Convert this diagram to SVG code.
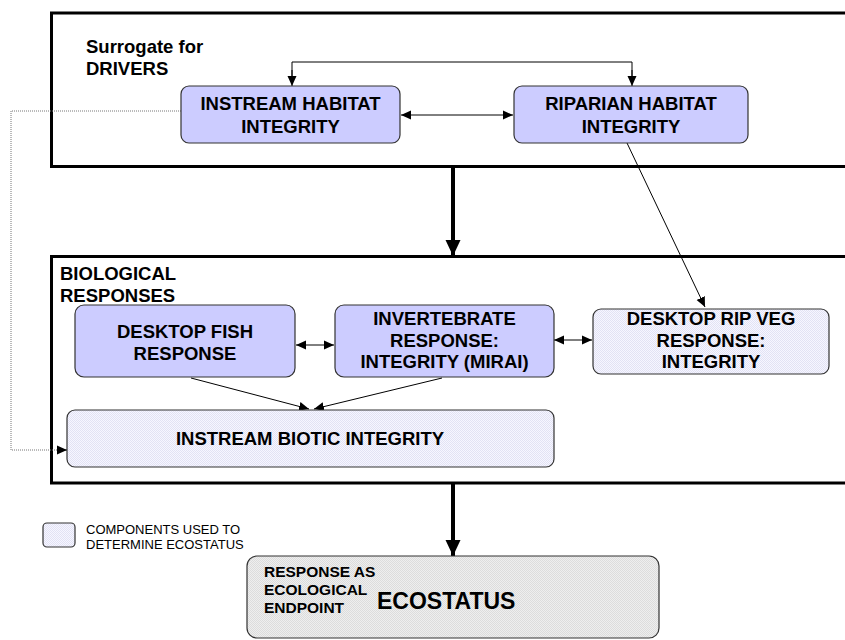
<svg xmlns="http://www.w3.org/2000/svg" width="845" height="640" viewBox="0 0 845 640">
<style>
.frame{fill:none;stroke:#000;stroke-width:3}
.dark{fill:#ccccff;stroke:#333;stroke-width:1.2}
.light{fill:url(#lightDots);stroke:#333;stroke-width:1.2}
.grey{fill:url(#greyDots);stroke:#333;stroke-width:1.2}
.t{font-family:"Liberation Sans",Arial,sans-serif;font-weight:bold;font-size:18.5px;fill:#000}
.c{text-anchor:middle}
.small{font-family:"Liberation Sans",Arial,sans-serif;font-size:13px;fill:#000}
.mid{font-family:"Liberation Sans",Arial,sans-serif;font-weight:bold;font-size:15.5px;fill:#000}
.big{font-family:"Liberation Sans",Arial,sans-serif;font-weight:bold;font-size:23px;fill:#000}
.thin{fill:none;stroke:#000;stroke-width:1}
.thick{fill:none;stroke:#000;stroke-width:4}
.dot{fill:none;stroke:#777;stroke-width:1;stroke-dasharray:1 1}
</style>
<defs>
<pattern id="lightDots" width="2" height="2" patternUnits="userSpaceOnUse">
<rect width="2" height="2" fill="#f6f6ff"/>
<rect width="1" height="1" fill="#e2e2f4"/>
<rect x="1" y="1" width="1" height="1" fill="#e2e2f4"/>
</pattern>
<pattern id="greyDots" width="2" height="2" patternUnits="userSpaceOnUse">
<rect width="2" height="2" fill="#eeeeee"/>
<rect width="1" height="1" fill="#dcdcdc"/>
<rect x="1" y="1" width="1" height="1" fill="#dcdcdc"/>
</pattern>
<marker id="a" markerUnits="userSpaceOnUse" markerWidth="10" markerHeight="10" viewBox="0 0 10 10" refX="10" refY="5" orient="auto-start-reverse">
<path d="M0,0.5 L10,5 L0,9.5 Z" fill="#000"/>
</marker>
<marker id="A" markerUnits="userSpaceOnUse" markerWidth="16" markerHeight="16" viewBox="0 0 16 16" refX="16" refY="8" orient="auto">
<path d="M0,0.5 L16,8 L0,15.5 Z" fill="#000"/>
</marker>
</defs>

<g id="frames">
<rect class="frame" x="51.5" y="13" width="820" height="153.5"/>
<rect class="frame" x="51.5" y="256.5" width="820" height="226.5"/>
<text class="t" x="86" y="53">Surrogate for</text>
<text class="t" x="86" y="75">DRIVERS</text>
<text class="t" x="60" y="280">BIOLOGICAL</text>
<text class="t" x="60" y="302">RESPONSES</text>
</g>

<g id="connectors">
<path class="thin" d="M292,78 V62 H632 V78"/>
<path class="thin" d="M292,70 V86" marker-end="url(#a)"/>
<path class="thin" d="M632,70 V86" marker-end="url(#a)"/>
<path class="thin" d="M401,115 H513" marker-start="url(#a)" marker-end="url(#a)"/>
<path class="dot" d="M181,111 H11 V450 H60"/>
<path class="thin" d="M58,450 H67" marker-end="url(#a)"/>
<path class="thick" d="M453,166 V256" marker-end="url(#A)"/>
<path class="thin" d="M627,143 L705,307" marker-end="url(#a)"/>
<path class="thin" d="M296,345 H334" marker-start="url(#a)" marker-end="url(#a)"/>
<path class="thin" d="M554,340 H592" marker-start="url(#a)" marker-end="url(#a)"/>
<path class="thin" d="M191,378 L309,409" marker-end="url(#a)"/>
<path class="thin" d="M442,378 L314,409" marker-end="url(#a)"/>
<path class="thick" d="M453,483 V556" marker-end="url(#A)"/>
</g>

<g id="instream-habitat">
<rect class="dark" x="181" y="86" width="219" height="57" rx="8"/>
<text class="t c" x="290.5" y="110">INSTREAM HABITAT</text>
<text class="t c" x="290.5" y="133">INTEGRITY</text>
</g>
<g id="riparian-habitat">
<rect class="dark" x="514" y="86" width="234" height="57" rx="8"/>
<text class="t c" x="631" y="110">RIPARIAN HABITAT</text>
<text class="t c" x="631" y="133">INTEGRITY</text>
</g>
<g id="fish">
<rect class="dark" x="75" y="305" width="220" height="72" rx="9"/>
<text class="t c" x="185" y="338">DESKTOP FISH</text>
<text class="t c" x="185" y="360">RESPONSE</text>
</g>
<g id="invertebrate">
<rect class="dark" x="335" y="305" width="219" height="72" rx="9"/>
<text class="t c" x="444.5" y="325">INVERTEBRATE</text>
<text class="t c" x="444.5" y="347">RESPONSE:</text>
<text class="t c" x="444.5" y="368">INTEGRITY (MIRAI)</text>
</g>
<g id="ripveg">
<rect class="light" x="593" y="309" width="236" height="65" rx="8"/>
<text class="t c" x="711" y="325">DESKTOP RIP VEG</text>
<text class="t c" x="711" y="347">RESPONSE:</text>
<text class="t c" x="711" y="368">INTEGRITY</text>
</g>
<g id="biotic">
<rect class="light" x="67" y="410" width="487" height="57" rx="8"/>
<text class="t c" x="310" y="445">INSTREAM BIOTIC INTEGRITY</text>
</g>
<g id="legend">
<rect class="light" x="43" y="523" width="32" height="24" rx="4"/>
<text class="small" x="86" y="534">COMPONENTS USED TO</text>
<text class="small" x="86" y="549">DETERMINE ECOSTATUS</text>
</g>
<g id="ecostatus">
<rect class="grey" x="247" y="556" width="412" height="82" rx="10"/>
<text class="mid" x="264" y="577">RESPONSE AS</text>
<text class="mid" x="264" y="595">ECOLOGICAL</text>
<text class="mid" x="264" y="613">ENDPOINT</text>
<text class="big" x="377" y="609">ECOSTATUS</text>
</g>
</svg>
